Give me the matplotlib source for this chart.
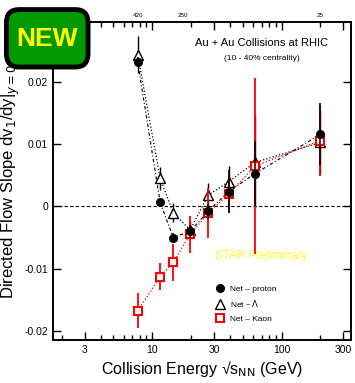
"""
Directed flow slope vs collision energy (net-proton, net-Lambda, net-Kaon)
"""

import numpy as np
import matplotlib.pyplot as plt
from matplotlib.patches import FancyBboxPatch
from matplotlib.lines import Line2D
from matplotlib.ticker import FixedLocator, NullFormatter, FixedFormatter

plt.rcParams['font.family'] = ['Liberation Sans', 'DejaVu Sans']

# Beam energies (GeV)
energy = [7.7, 11.5, 14.5, 19.6, 27, 39, 62.4, 200]

# Net-proton
proton_v = [0.0232, 0.00065, -0.0050, -0.0040, -0.0008, 0.0024, 0.0053, 0.0116]
proton_e = [0.0008, 0.0006, 0.0008, 0.0010, 0.0012, 0.0035, 0.0052, 0.0050]

# Net-Lambda
lambda_v = [0.0244, 0.0045, -0.0010, -0.0038, 0.0018, 0.0040, 0.0071, 0.0103]
lambda_e = [0.0030, 0.0019, 0.0015, 0.0015, 0.0020, 0.0025, 0.0074, 0.0050]

# Net-Kaon
kaon_v = [-0.0168, -0.0113, -0.0090, -0.0045, -0.0011, 0.0020, 0.0065, 0.0106]
kaon_e = [0.0028, 0.0022, 0.0030, 0.0030, 0.0040, 0.0030, 0.0142, 0.0057]

# top axis labels (baryon chemical potential)
top_pos = [7.7, 17.3, 200]
top_labels = ['420', '250', '25']

fig = plt.figure(figsize=(3.55, 3.83), dpi=100)
ax = fig.add_axes([0.149, 0.112, 0.840, 0.831])

ax.set_xscale('log')
ax.set_xlim(1.7, 345)
ax.set_ylim(-0.0215, 0.0297)

ax.axhline(0, color='black', linestyle=(0, (3, 2)), linewidth=0.8, zorder=1)

# kaon
ax.plot(energy, kaon_v, color='red', linestyle=':', linewidth=0.9, zorder=2)
ax.errorbar(energy, kaon_v, yerr=kaon_e, fmt='s', ms=6, mfc='white', mec='red',
            mew=1.5, ecolor='red', elinewidth=1.3, capsize=0, zorder=4)

# proton
ax.plot(energy, proton_v, color='black', linestyle=(0, (3, 2, 1, 2)),
        linewidth=0.8, zorder=2)
ax.errorbar(energy, proton_v, yerr=proton_e, fmt='o', ms=5.5, color='black',
            ecolor='black', elinewidth=1.1, capsize=0, zorder=5)

# lambda
ax.plot(energy, lambda_v, color='black', linestyle=':', linewidth=0.9, zorder=2)
ax.errorbar(energy, lambda_v, yerr=lambda_e, fmt='^', ms=6.5, mfc='white',
            mec='black', mew=1.0, ecolor='black', elinewidth=1.0, capsize=0,
            zorder=3)

# ticks
ax.xaxis.set_major_locator(FixedLocator([3, 10, 30, 100, 300]))
ax.xaxis.set_major_formatter(FixedFormatter(['3', '10', '30', '100', '300']))
minors = [m * d for d in [1, 10, 100] for m in range(2, 10)]
minors = [v for v in minors if v not in (3, 30, 300)]
ax.xaxis.set_minor_locator(FixedLocator(minors))
ax.xaxis.set_minor_formatter(NullFormatter())
ax.set_yticks([-0.02, -0.01, 0, 0.01, 0.02])
ax.set_yticklabels(['-0.02', '-0.01', '0', '0.01', '0.02'])
ax.tick_params(which='both', direction='in', top=True, right=True,
               labelsize=7.5, width=1.0)
ax.tick_params(which='major', length=6)
ax.tick_params(which='minor', length=3.5)
for s in ax.spines.values():
    s.set_linewidth(1.4)

for p, l in zip(top_pos, top_labels):
    ax.text(p, 1.012, l, transform=ax.get_xaxis_transform(), ha='center',
            va='bottom', fontsize=4.5)

ax.set_xlabel('Collision Energy √s$_{\\rm NN}$ (GeV)', fontsize=11.5,
              labelpad=3)
ax.set_ylabel('Directed Flow Slope dv$_1$/dy|$_{y=0}$', fontsize=12, labelpad=2)

ax.text(0.70, 0.935, 'Au + Au Collisions at RHIC', transform=ax.transAxes,
        ha='center', va='center', fontsize=8)
ax.text(0.70, 0.885, '(10 - 40% centrality)', transform=ax.transAxes,
        ha='center', va='center', fontsize=6)
ax.text(0.70, 0.265, 'STAR Preliminary', transform=ax.transAxes,
        ha='center', va='center', fontsize=8.5, color='#ffff33')

handles = [
    Line2D([], [], marker='o', ms=5.5, color='black', linestyle='none'),
    Line2D([], [], marker='^', ms=6.5, mfc='white', mec='black', mew=1.0,
           linestyle='none'),
    Line2D([], [], marker='s', ms=6, mfc='white', mec='red', mew=1.5,
           linestyle='none'),
]
ax.legend(handles, ['Net – proton', 'Net – $\\Lambda$', 'Net – Kaon'],
          loc='lower left', bbox_to_anchor=(0.52, 0.03), frameon=False,
          fontsize=6, handlelength=1.0, handletextpad=0.8, labelspacing=0.7,
          numpoints=1)

# NEW badge
badge = FancyBboxPatch((0.018, 0.825), 0.23, 0.15, transform=fig.transFigure,
                       boxstyle='round,pad=0.0,rounding_size=0.035',
                       facecolor='#009900', edgecolor='black', linewidth=3.5,
                       zorder=10)
fig.patches.append(badge)
fig.text(0.133, 0.899, 'NEW', ha='center', va='center', fontsize=19,
         fontweight='bold', color='#ffff00', zorder=11)

plt.savefig('out.png', dpi=100)
